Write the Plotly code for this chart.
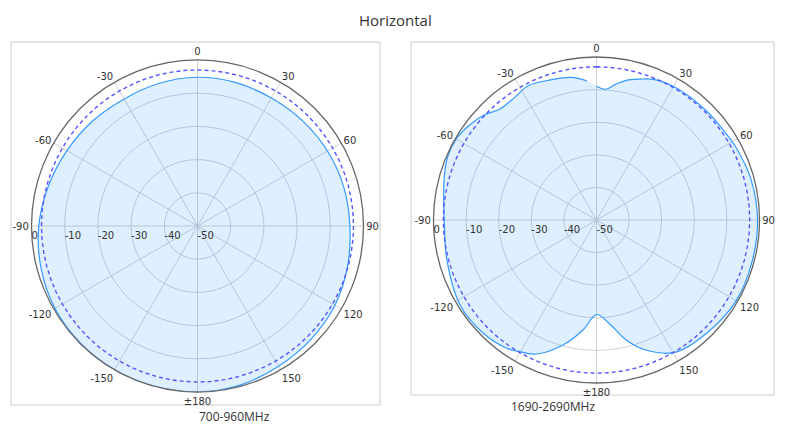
import plotly.graph_objects as go

# patrones horizontales (grados, dB)
ang_700 = [0, 15, 30, 45, 60, 75, 90, 105, 120, 135, 150, 165, 180,
           195, 210, 225, 240, 255, 270, 285, 300, 315, 330, 345, 360]
gan_700 = [-5.2, -5.3, -5.5, -5.2, -4.8, -4.4, -4.1, -3.2, -2.2, -1.7, -1.2, -0.4, 0.0,
           0.0, 0.0, -0.1, -0.4, -1.2, -2.2, -3.5, -4.6, -5.3, -5.8, -5.5, -5.2]

ang_1690 = [0, 4, 8, 12, 17, 22, 31, 45, 55, 62, 75, 90, 105, 120, 135, 149, 159, 166, 173, 180,
            187, 195, 204, 210, 215, 225, 238, 255, 270, 285, 293, 300, 306, 313, 319, 326, 333,
            342, 350, 356]
gan_1690 = [-9.0, -9.8, -8.0, -6.2, -4.8, -3.5, -2.7, -2.5, -2.3, -1.8, -1.0, -0.6, -0.6, -0.5,
            -1.5, -2.7, -7.2, -12.0, -18.0, -21.0, -16.0, -10.3, -5.0, -3.3, -2.0, -0.9, -0.7,
            -2.5, -3.3, -1.6, -0.4, -0.3, -1.2, -2.8, -4.9, -4.8, -3.8, -4.8, -5.6, -7.2]

ref_ang = list(range(0, 361, 5))
ref_db = -3

ang_ticks = [0, 30, 60, 90, 120, 150, 180, 210, 240, 270, 300, 330]
ang_labels = ["0", "30", "60", "90", "120", "150", "\u00b1180", "-150", "-120", "-90", "-60", "-30"]
rad_ticks = [-50, -40, -30, -20, -10, 0]
rad_labels = ["-50", "-40", "-30", "-20", "-10", "0"]

fig = go.Figure()

for i, (th, r) in enumerate([(ang_700, gan_700), (ang_1690, gan_1690)]):
    sub = "polar" if i == 0 else "polar2"
    fig.add_trace(go.Scatterpolar(
        theta=th, r=r, mode="lines", fill="toself",
        fillcolor="rgba(0,130,255,0.13)",
        line=dict(color="#3399ff", width=1.2, shape="spline"),
        subplot=sub, showlegend=False, hoverinfo="skip"))
    fig.add_trace(go.Scatterpolar(
        theta=ref_ang, r=[ref_db] * len(ref_ang), mode="lines",
        line=dict(color="#5555ff", width=1.4, dash="4px,3px"),
        subplot=sub, showlegend=False, hoverinfo="skip"))

polar_style = dict(
    bgcolor="rgba(0,0,0,0)",
    angularaxis=dict(
        rotation=90, direction="clockwise",
        tickvals=ang_ticks, ticktext=ang_labels, ticks="",
        showline=True, linecolor="#666", linewidth=1.3,
        gridcolor="#d0d0d0", gridwidth=1,
        tickfont=dict(family="DejaVu Sans", size=10, color="#333")),
    radialaxis=dict(
        range=[-50, 0], tickvals=rad_ticks, ticktext=rad_labels,
        angle=180, tickangle=180, side="counterclockwise",
        showline=False, ticks="",
        gridcolor="#d0d0d0", gridwidth=1,
        tickfont=dict(family="DejaVu Sans", size=10, color="#333")),
)

# la página tiene 8px de margen en el body
OFF = 8
W, H = 782, 417


def px(x):
    return (x - OFF) / W


def py(y):
    return 1 - (y - OFF) / H


fig.update_layout(
    width=W, height=H,
    margin=dict(l=0, r=0, t=0, b=0),
    paper_bgcolor="white", plot_bgcolor="white",
    polar=dict(domain=dict(x=[px(31.5), px(363.5)], y=[py(392), py(60)]), **polar_style),
    polar2=dict(domain=dict(x=[px(433.5), px(759.5)], y=[py(383), py(57)]), **polar_style),
    shapes=[
        dict(type="rect", xref="paper", yref="paper",
             x0=px(11), x1=px(380), y0=py(405), y1=py(42),
             line=dict(color="#cccccc", width=1), layer="below"),
        dict(type="rect", xref="paper", yref="paper",
             x0=px(411), x1=px(774), y0=py(395), y1=py(42),
             line=dict(color="#cccccc", width=1), layer="below"),
    ],
    annotations=[
        dict(text="Horizontal", x=px(395), y=1, xref="paper", yref="paper",
             yanchor="top", showarrow=False,
             font=dict(family="Open Sans", size=15, color="#333")),
        dict(text="700-960MHz", x=px(197), y=py(416), xref="paper", yref="paper",
             yanchor="middle", showarrow=False,
             font=dict(family="Open Sans", size=12, color="#333")),
        dict(text="1690-2690MHz", x=px(597), y=py(406), xref="paper", yref="paper",
             yanchor="middle", showarrow=False,
             font=dict(family="Open Sans", size=12, color="#333")),
    ],
)

fig.write_html("out.html")
